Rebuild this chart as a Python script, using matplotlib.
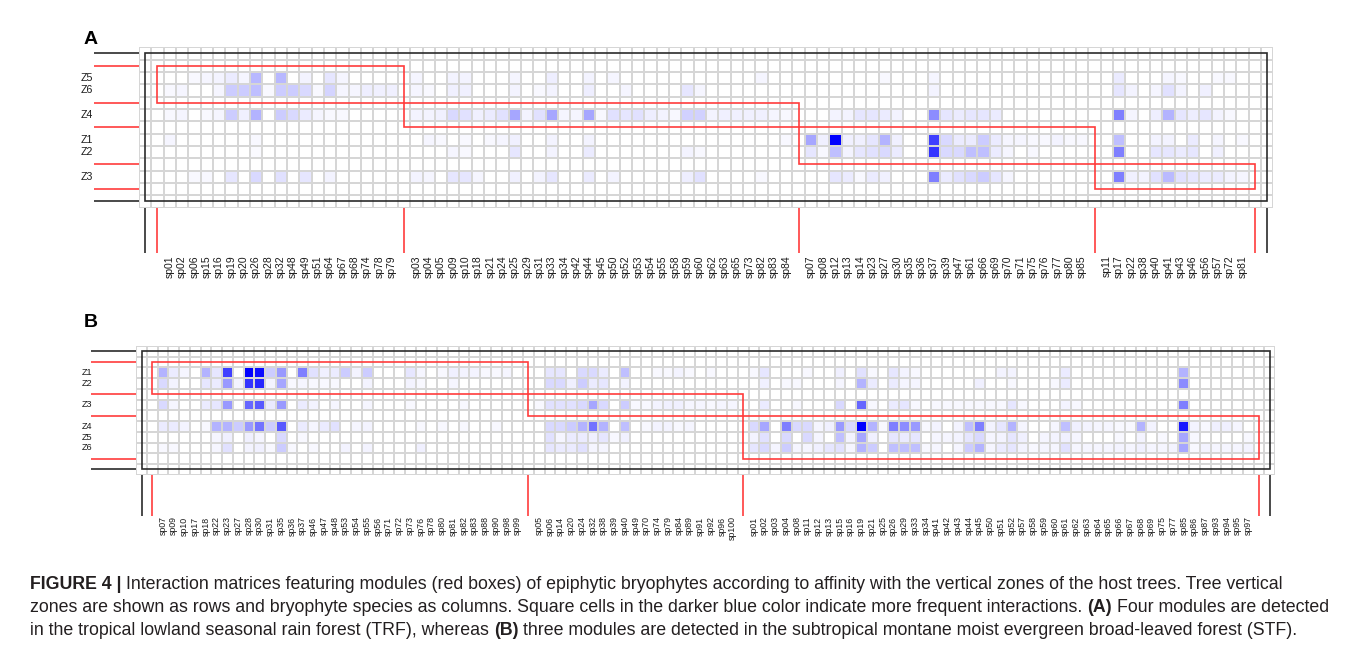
import numpy as np
import matplotlib
matplotlib.use("Agg")
import matplotlib.pyplot as plt
from matplotlib.colors import LinearSegmentedColormap
from matplotlib.patches import Rectangle
from matplotlib.transforms import IdentityTransform

plt.rcParams["font.family"] = ["Liberation Sans", "DejaVu Sans"]

# ---------------- panel A: TRF ----------------
zones_a = ["Z5", "Z6", "Z4", "Z1", "Z2", "Z3"]
zone_modules_a = [0, 0, 1, 2, 2, 3]
species_a = ["sp01", "sp02", "sp06", "sp15", "sp16", "sp19", "sp20", "sp26", "sp28", "sp32",
             "sp48", "sp49", "sp51", "sp64", "sp67", "sp68", "sp74", "sp78", "sp79",
             "sp03", "sp04", "sp05", "sp09", "sp10", "sp18", "sp21", "sp24", "sp25", "sp29",
             "sp31", "sp33", "sp34", "sp42", "sp44", "sp45", "sp50", "sp52", "sp53", "sp54",
             "sp55", "sp58", "sp59", "sp60", "sp62", "sp63", "sp65", "sp73", "sp82", "sp83", "sp84",
             "sp07", "sp08", "sp12", "sp13", "sp14", "sp23", "sp27", "sp30", "sp35", "sp36",
             "sp37", "sp39", "sp47", "sp61", "sp66", "sp69", "sp70", "sp71", "sp75", "sp76",
             "sp77", "sp80", "sp85",
             "sp11", "sp17", "sp22", "sp38", "sp40", "sp41", "sp43", "sp46", "sp56", "sp57", "sp72", "sp81"]
module_sizes_a = [19, 31, 23, 12]

# relative interaction intensity (0-100), species in the order above
a_z5 = [0, 0, 3, 4, 5, 8, 4, 28, 0, 28, 0, 5, 0, 10, 4, 0, 0, 0, 0,
        4, 0, 0, 5, 5, 0, 0, 0, 4, 0, 0, 7, 0, 0, 5, 0, 4, 0, 0, 0, 0, 0, 0, 0, 0, 0, 0, 0, 4, 0, 0,
        0, 0, 0, 0, 0, 0, 3, 0, 0, 0, 4, 0, 0, 0, 0, 0, 0, 0, 0, 0, 0, 0, 0,
        0, 8, 0, 0, 0, 4, 3, 0, 0, 3, 3, 0]
a_z6 = [3, 4, 0, 0, 4, 20, 20, 25, 3, 20, 20, 15, 3, 17, 4, 4, 7, 6, 6,
        4, 3, 0, 6, 6, 0, 0, 0, 5, 0, 3, 5, 0, 0, 7, 0, 0, 4, 0, 0, 0, 0, 10, 4, 0, 0, 0, 0, 0, 0, 0,
        0, 0, 0, 0, 0, 0, 0, 0, 0, 0, 5, 0, 0, 0, 0, 0, 0, 0, 0, 0, 0, 0, 0,
        0, 10, 5, 0, 4, 12, 5, 0, 6, 0, 0, 0]
a_z4 = [3, 4, 0, 3, 4, 20, 6, 30, 0, 20, 15, 8, 4, 3, 3, 0, 0, 0, 0,
        5, 5, 6, 15, 12, 6, 8, 12, 35, 5, 12, 35, 4, 4, 35, 3, 12, 10, 12, 7, 5, 3, 18, 18, 5, 6, 6, 6, 6, 4, 3,
        0, 0, 5, 5, 10, 10, 8, 5, 0, 0, 45, 10, 8, 10, 10, 8, 0, 0, 0, 0, 0, 0, 0,
        0, 50, 4, 0, 7, 30, 10, 7, 10, 5, 3, 0]
a_z1 = [4, 0, 0, 0, 0, 0, 0, 3, 0, 0, 0, 0, 0, 0, 0, 0, 0, 0, 0,
        0, 4, 3, 0, 3, 0, 3, 4, 6, 0, 0, 5, 0, 0, 5, 0, 0, 0, 0, 0, 0, 0, 0, 0, 0, 0, 0, 0, 0, 0, 3,
        35, 6, 100, 6, 6, 10, 30, 6, 0, 0, 75, 15, 8, 8, 20, 8, 4, 4, 3, 3, 5, 3, 3,
        0, 25, 0, 0, 5, 5, 0, 8, 0, 4, 0, 3]
a_z2 = [0, 0, 0, 0, 0, 0, 0, 2, 0, 0, 0, 0, 0, 0, 0, 0, 0, 0, 0,
        0, 0, 0, 4, 3, 0, 0, 0, 10, 0, 0, 5, 0, 0, 8, 0, 0, 0, 0, 0, 0, 0, 5, 3, 0, 0, 0, 0, 0, 0, 0,
        10, 3, 25, 5, 10, 12, 15, 8, 0, 0, 80, 15, 15, 25, 25, 8, 4, 0, 3, 0, 0, 0, 0,
        0, 50, 0, 0, 10, 10, 8, 10, 0, 6, 0, 0]
a_z3 = [0, 0, 3, 3, 0, 10, 0, 15, 0, 12, 0, 10, 0, 5, 0, 0, 0, 0, 0,
        5, 4, 0, 10, 10, 4, 0, 0, 6, 0, 5, 10, 0, 0, 8, 0, 5, 0, 0, 0, 0, 0, 7, 12, 0, 0, 0, 0, 3, 0, 0,
        0, 0, 10, 8, 3, 8, 6, 0, 0, 0, 50, 8, 12, 15, 20, 10, 4, 0, 0, 0, 0, 0, 0,
        0, 50, 6, 5, 12, 27, 12, 10, 8, 8, 5, 4]

# ---------------- panel B: STF ----------------
zones_b = ["Z1", "Z2", "Z3", "Z4", "Z5", "Z6"]
zone_modules_b = [0, 0, 1, 2, 2, 2]
species_b = ["sp07", "sp09", "sp10", "sp17", "sp18", "sp22", "sp23", "sp27", "sp28", "sp30",
             "sp31", "sp35", "sp36", "sp37", "sp46", "sp47", "sp48", "sp53", "sp54", "sp55",
             "sp56", "sp71", "sp72", "sp73", "sp76", "sp78", "sp80", "sp81", "sp82", "sp83",
             "sp88", "sp90", "sp98", "sp99",
             "sp05", "sp06", "sp14", "sp20", "sp24", "sp32", "sp38", "sp39", "sp40", "sp49",
             "sp70", "sp74", "sp79", "sp84", "sp89", "sp91", "sp92", "sp96", "sp100",
             "sp01", "sp02", "sp03", "sp04", "sp08", "sp11", "sp12", "sp13", "sp15", "sp16",
             "sp19", "sp21", "sp25", "sp26", "sp29", "sp33", "sp34", "sp41", "sp42", "sp43",
             "sp44", "sp45", "sp50", "sp51", "sp52", "sp57", "sp58", "sp59", "sp60", "sp61",
             "sp62", "sp63", "sp64", "sp65", "sp66", "sp67", "sp68", "sp69", "sp75", "sp77",
             "sp85", "sp86", "sp87", "sp93", "sp94", "sp95", "sp97"]
module_sizes_b = [34, 19, 47]

b_z1 = [30, 8, 4, 0, 30, 10, 75, 0, 100, 95, 20, 40, 0, 50, 12, 6, 8, 20, 5, 20,
        0, 0, 0, 10, 4, 0, 3, 6, 5, 5, 3, 3, 4, 0,
        0, 10, 10, 0, 15, 15, 8, 0, 25, 0, 0, 3, 3, 5, 3, 0, 3, 0, 0,
        3, 10, 0, 0, 0, 3, 0, 0, 6, 0, 12, 3, 0, 10, 5, 3, 0, 0, 0, 0,
        0, 0, 0, 5, 5, 0, 0, 0, 0, 8, 0, 0, 0, 0, 0, 0, 0, 0, 0, 0,
        30, 0, 0, 0, 0, 0, 0]
b_z2 = [15, 5, 0, 0, 10, 8, 40, 5, 80, 85, 5, 35, 3, 4, 3, 3, 3, 0, 0, 5,
        0, 0, 0, 5, 3, 0, 0, 4, 0, 0, 0, 0, 0, 0,
        0, 15, 15, 6, 20, 8, 10, 0, 5, 0, 0, 0, 0, 0, 0, 0, 0, 0, 0,
        0, 6, 0, 3, 3, 0, 0, 0, 4, 0, 30, 8, 0, 8, 4, 4, 0, 0, 0, 0,
        0, 6, 0, 0, 3, 0, 0, 0, 3, 8, 0, 0, 0, 0, 0, 0, 0, 0, 0, 0,
        45, 0, 0, 0, 0, 0, 0]
b_z3 = [15, 4, 0, 0, 8, 10, 40, 0, 60, 65, 8, 40, 0, 8, 5, 0, 4, 0, 0, 4,
        0, 0, 0, 3, 0, 0, 0, 0, 3, 0, 0, 0, 0, 0,
        3, 12, 12, 12, 15, 35, 15, 0, 20, 3, 3, 5, 6, 6, 4, 4, 3, 4, 4,
        0, 8, 0, 0, 3, 0, 0, 0, 15, 0, 60, 3, 0, 8, 10, 3, 0, 3, 3, 3,
        3, 3, 3, 3, 10, 3, 0, 0, 0, 5, 3, 0, 0, 0, 0, 0, 0, 0, 0, 0,
        50, 0, 0, 0, 0, 0, 0]
b_z4 = [8, 8, 5, 0, 3, 30, 30, 20, 40, 55, 20, 65, 0, 8, 4, 8, 12, 0, 4, 5,
        0, 0, 0, 0, 3, 0, 3, 0, 3, 0, 0, 3, 0, 0,
        0, 15, 15, 20, 30, 55, 30, 0, 25, 0, 3, 5, 5, 3, 4, 0, 0, 0, 0,
        15, 35, 0, 50, 15, 15, 4, 6, 40, 15, 100, 30, 3, 50, 45, 40, 3, 5, 0, 5,
        25, 50, 5, 10, 30, 4, 0, 0, 4, 25, 6, 5, 4, 4, 3, 3, 30, 5, 0, 0,
        90, 5, 3, 6, 6, 4, 0]
b_z5 = [0, 0, 0, 0, 0, 4, 6, 0, 6, 4, 0, 15, 0, 3, 0, 0, 0, 0, 0, 0,
        0, 0, 0, 0, 0, 0, 0, 0, 0, 0, 0, 0, 0, 0,
        0, 12, 4, 8, 8, 6, 10, 3, 6, 0, 0, 0, 0, 0, 0, 0, 0, 0, 0,
        5, 12, 0, 15, 0, 15, 4, 0, 25, 5, 35, 6, 0, 10, 8, 10, 0, 4, 4, 5,
        10, 15, 4, 5, 10, 6, 0, 4, 5, 6, 4, 0, 0, 0, 3, 0, 5, 0, 3, 0,
        35, 3, 0, 0, 0, 0, 3]
b_z6 = [3, 3, 0, 0, 0, 4, 12, 0, 5, 6, 3, 20, 3, 0, 3, 0, 0, 5, 0, 5,
        0, 0, 0, 0, 6, 0, 0, 0, 0, 0, 0, 0, 0, 0,
        0, 10, 8, 8, 12, 4, 4, 0, 0, 0, 0, 0, 0, 0, 0, 0, 0, 0, 0,
        10, 15, 4, 20, 4, 4, 6, 10, 12, 4, 30, 20, 0, 25, 25, 25, 3, 4, 0, 4,
        20, 30, 4, 8, 10, 5, 3, 4, 4, 12, 4, 4, 4, 4, 5, 4, 6, 4, 4, 5,
        35, 3, 5, 4, 4, 4, 5]

caption = [
    [("FIGURE 4 |", True), ("Interaction matrices featuring modules (red boxes) of epiphytic bryophytes "
                            "according to affinity with the vertical zones of the host trees. Tree vertical", False)],
    [("zones are shown as rows and bryophyte species as columns. Square cells in the darker blue color "
      "indicate more frequent interactions.", False), ("(A)", True), ("Four modules are detected", False)],
    [("in the tropical lowland seasonal rain forest (TRF), whereas", False), ("(B)", True),
     ("three modules are detected in the subtropical montane moist evergreen broad-leaved forest (STF).", False)],
]

W, H = 1360, 653
RED = "#ff3c3c"
DARK = "#2b2b2b"
cmap = LinearSegmentedColormap.from_list("wb", ["#ffffff", "#0000ff"])

fig = plt.figure(figsize=(W / 100, H / 100), dpi=100)


def px_axes(left, top, right, bottom):
    return fig.add_axes([left / W, 1 - bottom / H, (right - left) / W, (bottom - top) / H])


def draw_web(ax, zones, zone_mod, species, sizes, values, side, drop, lab_gap, zone_x, sp_fs, z_fs):
    n_mod = len(sizes)
    zone_mod = np.array(zone_mod)
    sp_mod = np.repeat(np.arange(n_mod), sizes)
    rows = 2 + np.arange(len(zones)) + zone_mod
    cols = 2 + np.arange(len(species)) + sp_mod
    nr = len(zones) + n_mod + 3
    nc = len(species) + n_mod + 3
    grid = np.zeros((nr, nc))
    grid[np.ix_(rows, cols)] = np.array(values)
    ax.pcolormesh(np.arange(nc + 1), np.arange(nr + 1), grid, cmap=cmap, vmin=0, vmax=100,
                  edgecolors="#d6d6d6", linewidth=1.2)
    ax.set_xlim(0, nc)
    ax.set_ylim(nr, 0)
    ax.axis("off")

    # whole web
    ax.add_patch(Rectangle((0.5, 0.5), nc - 1, nr - 1, fill=False, ec=DARK, lw=1.2, zorder=3))
    ys_red, xs_red = set(), set()
    for m in range(n_mod):
        r = rows[zone_mod == m]
        c = cols[sp_mod == m]
        x0, x1 = c.min() - 0.5, c.max() + 1.5
        y0, y1 = r.min() - 0.5, r.max() + 1.5
        ax.add_patch(Rectangle((x0, y0), x1 - x0, y1 - y0, fill=False, ec=RED, lw=1.2, zorder=4))
        ys_red.update([y0, y1])
        xs_red.update([x0, x1])

    # depth lines on the left and below
    ax.hlines([0.5, nr - 0.5], -side, 0, colors=DARK, lw=1.2, clip_on=False)
    ax.hlines(sorted(ys_red), -side, 0, colors=RED, lw=1.2, clip_on=False)
    ax.vlines([0.5, nc - 0.5], nr, nr + drop, colors=DARK, lw=1.2, clip_on=False)
    ax.vlines(sorted(xs_red), nr, nr + drop, colors=RED, lw=1.2, clip_on=False)

    for z, r in zip(zones, rows):
        ax.text(-zone_x, r + 0.5, z, ha="left", va="center", fontsize=z_fs, color="#1a1a1a")
    for s, c in zip(species, cols):
        ax.text(c + 0.5, nr + lab_gap, s, rotation=90, ha="center", va="top",
                fontsize=sp_fs, color="#1a1a1a")


ax_a = px_axes(138.9, 47.2, 1273.3, 207.5)
draw_web(ax_a, zones_a, zone_modules_a, species_a, module_sizes_a,
         [a_z5, a_z6, a_z4, a_z1, a_z2, a_z3], side=3.64, drop=3.71, lab_gap=3.86,
         zone_x=4.72, sp_fs=7.5, z_fs=7.7)

ax_b = px_axes(136.2, 345.9, 1275.2, 474.8)
draw_web(ax_b, zones_b, zone_modules_b, species_b, module_sizes_b,
         [b_z1, b_z2, b_z3, b_z4, b_z5, b_z6], side=4.2, drop=3.8, lab_gap=3.88,
         zone_x=5.07, sp_fs=6.3, z_fs=6.6)

fig.text(84, H - 44, "A", transform=IdentityTransform(), fontsize=14, fontweight="bold",
         va="baseline", ha="left")
fig.text(84, H - 327, "B", transform=IdentityTransform(), fontsize=14, fontweight="bold",
         va="baseline", ha="left")

# caption with mixed bold / regular runs
renderer = fig.canvas.get_renderer()


def text_w(s, size, bold):
    t = fig.text(0, 0, s, fontsize=size, fontweight="bold" if bold else "normal",
                 transform=IdentityTransform())
    w = t.get_window_extent(renderer).width
    t.remove()
    return w


def line_w(parts, size):
    sp = text_w("x x", size, False) - text_w("xx", size, False)
    return sum(text_w(s, size, b) for s, b in parts) + sp * (len(parts) - 1)


cap_size = 10 * 1262 / line_w(caption[0], 10)
space = text_w("x x", cap_size, False) - text_w("xx", cap_size, False)
for parts, base in zip(caption, [589, 612, 635]):
    x = 30
    for s, b in parts:
        t = fig.text(x, H - base, s, transform=IdentityTransform(), fontsize=cap_size,
                     fontweight="bold" if b else "normal", va="baseline", ha="left", color="#231f20")
        x += t.get_window_extent(renderer).width + space

fig.savefig("out.png", dpi=100, facecolor="white")
